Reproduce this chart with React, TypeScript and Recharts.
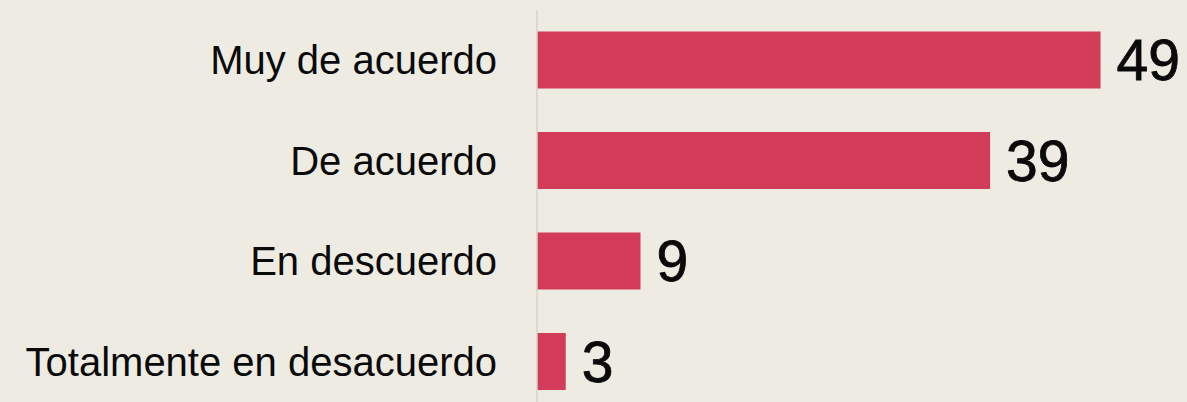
import React from 'react';
import { BarChart, Bar, XAxis, YAxis, LabelList } from 'recharts';

const categories = ['Muy de acuerdo', 'De acuerdo', 'En descuerdo', 'Totalmente en desacuerdo'];
const values = [49, 39.4, 9, 2.5];
const data = categories.map((c, i) => ({ name: c, value: values[i] }));

const BG = '#eeebe3';
const BAR = '#d33c58';

export default function App() {
  return (
    <div style={{ position: 'fixed', left: 0, top: 0, width: 1187, height: 402, background: BG, overflow: 'hidden' }}>
      <BarChart
        width={1187}
        height={412}
        data={data}
        layout="vertical"
        margin={{ top: 10, right: 6, bottom: 0, left: 0 }}
        barCategoryGap="21.4%"
      >
        <XAxis type="number" domain={[0, 56]} hide />
        <YAxis
          type="category"
          dataKey="name"
          width={537}
          axisLine={{ stroke: '#d6d3cd', strokeWidth: 1.5 }}
          tickLine={false}
          tickSize={0}
          tickMargin={40}
          tick={{ fontSize: 40, fill: '#0a0a0a', fontFamily: '"Liberation Sans", Arial, sans-serif' }}
          interval={0}
        />
        <Bar dataKey="value" fill={BAR} isAnimationActive={false}>
          <LabelList
            dataKey="value"
            position="right"
            offset={16}
            formatter={(v: number) => Math.round(v)}
            style={{ fontSize: 57, fill: '#0a0a0a', fontFamily: '"Liberation Sans", Arial, sans-serif', stroke: '#0a0a0a', strokeWidth: 0.8 }}
          />
        </Bar>
      </BarChart>
    </div>
  );
}
